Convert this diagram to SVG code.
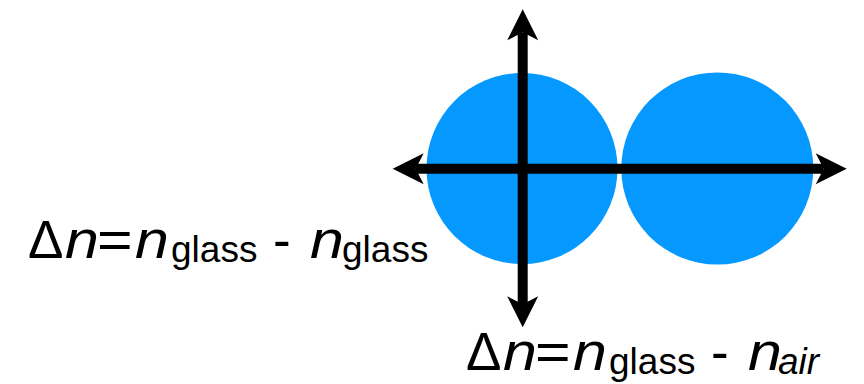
<svg xmlns="http://www.w3.org/2000/svg" width="864" height="384" viewBox="0 0 864 384">
  <style>
    .ball { fill: #0598FE; stroke: none; }
    .axis { stroke: #000000; stroke-width: 10; fill: none; stroke-linecap: butt; }
    .lbl { font-family: "Liberation Sans", Arial, sans-serif; font-size: 53px; fill: #000000; }
    .it { font-style: italic; }
    .sub { font-size: 37px; }
  </style>
  <defs>
    <marker id="arrow" viewBox="-9 -16 33 32" markerWidth="33" markerHeight="32" refX="0" refY="0" orient="auto-start-reverse" markerUnits="userSpaceOnUse">
      <path d="M23,0 L-8,-15.5 L0,0 L-8,15.5 Z" fill="#000000"/>
    </marker>
  </defs>
  <rect width="864" height="384" fill="#ffffff"/>
  <g id="sphere-left">
    <circle class="ball" cx="522" cy="168.5" r="95.5"/>
  </g>
  <g id="sphere-right">
    <circle class="ball" cx="717.3" cy="168.5" r="96"/>
  </g>
  <g id="connectors">
    <line class="axis" x1="415.7" y1="168.7" x2="823.7" y2="168.7" marker-start="url(#arrow)" marker-end="url(#arrow)"/>
    <line class="axis" x1="522.7" y1="32.3" x2="522.7" y2="304.3" marker-start="url(#arrow)" marker-end="url(#arrow)"/>
  </g>
  <g id="label-left">
    <text class="lbl" x="28" y="258">Δ</text>
    <text class="lbl it" transform="translate(65,258) scale(1.15,1)">n</text>
    <text class="lbl" transform="translate(97,258) scale(1.15,1)">=</text>
    <text class="lbl it" transform="translate(135,258) scale(1.15,1)">n</text>
    <text class="lbl sub" x="171" y="262">glass</text>
    <text class="lbl" x="273" y="258">-</text>
    <text class="lbl it" transform="translate(310,258) scale(1.15,1)">n</text>
    <text class="lbl sub" x="342" y="262">glass</text>
  </g>
  <g id="label-bottom">
    <text class="lbl" x="466" y="370">Δ</text>
    <text class="lbl it" transform="translate(503,370) scale(1.15,1)">n</text>
    <text class="lbl" transform="translate(535,370) scale(1.15,1)">=</text>
    <text class="lbl it" transform="translate(573,370) scale(1.15,1)">n</text>
    <text class="lbl sub" x="609" y="374">glass</text>
    <text class="lbl" x="711" y="370">-</text>
    <text class="lbl it" transform="translate(748,370) scale(1.15,1)">n</text>
    <text class="lbl sub it" x="778" y="374">air</text>
  </g>
</svg>
